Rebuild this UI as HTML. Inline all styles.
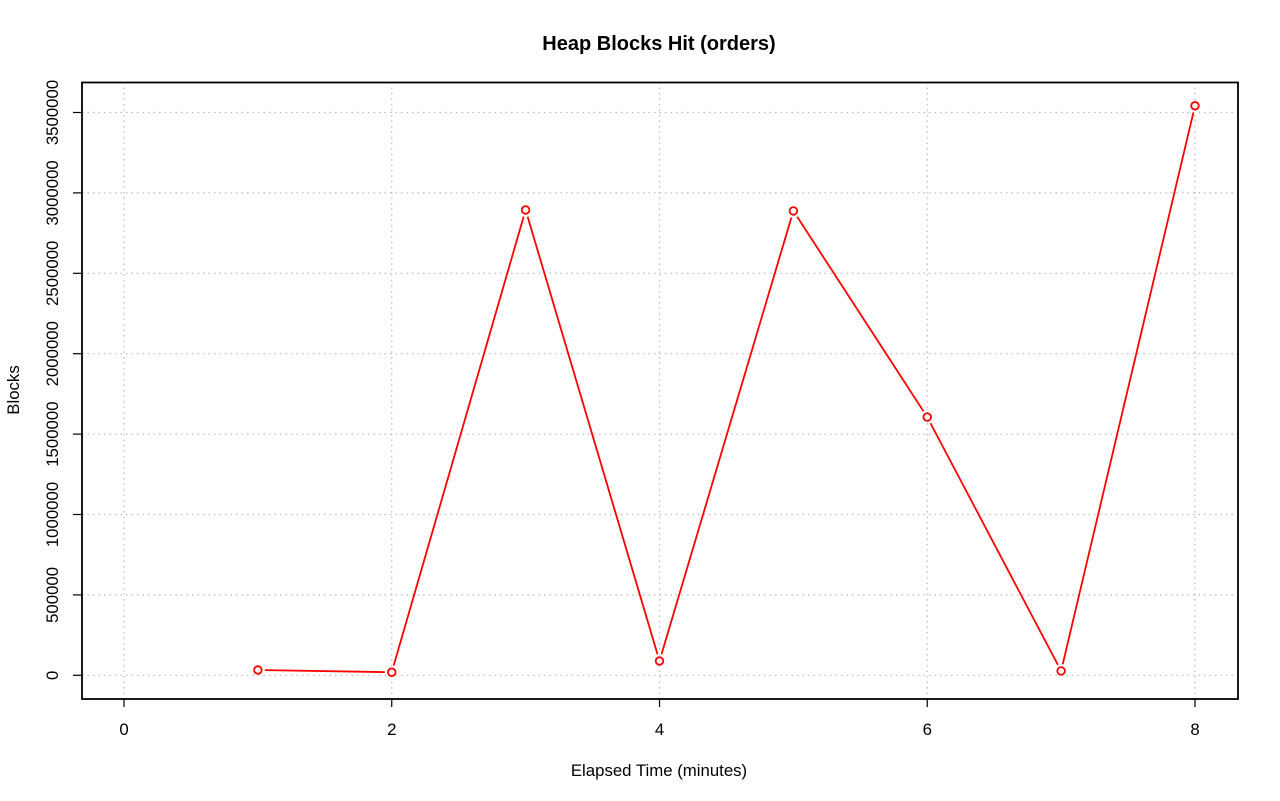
<!DOCTYPE html>
<html><head><meta charset="utf-8"><style>
html,body{margin:0;padding:0;background:#fff;}
svg{display:block;font-family:"Liberation Sans",sans-serif;}
</style></head><body>
<svg id="chart" width="1280" height="801" viewBox="0 0 1280 801">
<rect width="1280" height="801" fill="#fff"/>
<text x="659" y="50" text-anchor="middle" font-size="20" font-weight="bold">Heap Blocks Hit (orders)</text>
<text x="659" y="776" text-anchor="middle" font-size="16.8">Elapsed Time (minutes)</text>
<text x="0" y="0" transform="translate(19,390) rotate(-90)" text-anchor="middle" font-size="16.8">Blocks</text>
<g id="grid"></g>
<g id="axes"></g>
<g id="series"></g>
<rect x="82" y="82.5" width="1156" height="616.5" fill="none" stroke="#000" stroke-width="1.8"/>
</svg>
<script>
const xTicks = [0, 2, 4, 6, 8];
const yTicks = [0, 500000, 1000000, 1500000, 2000000, 2500000, 3000000, 3500000];
const yTickLabels = ["0", "500000", "1000000", "1500000", "2000000", "2500000", "3000000", "3500000"];
const minutes = [1, 2, 3, 4, 5, 6, 7, 8];
const blocks = [33000, 19000, 2894000, 89000, 2888000, 1606000, 27000, 3542000];

const NS = "http://www.w3.org/2000/svg";
function xs(v){ return 124 + v * (1195 - 124) / 8; }
function ys(v){ return 675.3 - v * 160.8 / 1000000; }
function mk(tag, attrs, parent){
  const e = document.createElementNS(NS, tag);
  for (const k in attrs) e.setAttribute(k, attrs[k]);
  parent.appendChild(e);
  return e;
}
const grid = document.getElementById('grid');
const axes = document.getElementById('axes');
const series = document.getElementById('series');

xTicks.forEach(t => {
  const g = mk('line', {x1: xs(t), x2: xs(t), y1: 82, y2: 699, stroke: '#bbb', 'stroke-width': 1.2, 'stroke-dasharray': '1.5 4'}, grid);
  
  
  const tk = mk('line', {x1: xs(t), x2: xs(t), y1: 699, y2: 707, stroke: '#000', 'stroke-width': 1.2}, axes);
  
  
  const lb = mk('text', {x: xs(t), y: 735, 'text-anchor': 'middle', 'font-size': 16.8}, axes);
  lb.textContent = String(t);
  
  
});
yTicks.forEach((t, i) => {
  const g = mk('line', {x1: 82, x2: 1238, y1: ys(t), y2: ys(t), stroke: '#bbb', 'stroke-width': 1.2, 'stroke-dasharray': '1.5 4'}, grid);
  
  
  const tk = mk('line', {x1: 73, x2: 82, y1: ys(t), y2: ys(t), stroke: '#000', 'stroke-width': 1.2}, axes);
  
  
  const lb = mk('text', {x: 0, y: 0, transform: 'translate(58,' + ys(t) + ') rotate(-90)', 'text-anchor': 'middle', 'font-size': 16.8}, axes);
  lb.textContent = yTickLabels[i];
  
  
});
const gap = 7;
for (let i = 0; i < minutes.length - 1; i++) {
  const x1 = xs(minutes[i]), y1 = ys(blocks[i]), x2 = xs(minutes[i+1]), y2 = ys(blocks[i+1]);
  const d = Math.hypot(x2 - x1, y2 - y1);
  if (d <= 2 * gap) continue;
  const ux = (x2 - x1) / d, uy = (y2 - y1) / d;
  const s = mk('line', {x1: x1 + ux*gap, y1: y1 + uy*gap, x2: x2 - ux*gap, y2: y2 - uy*gap, stroke: '#f00', 'stroke-width': 1.8}, series);
  
  
}
minutes.forEach((m, i) => {
  const c = mk('circle', {cx: xs(m), cy: ys(blocks[i]), r: 3.8, fill: '#fff', stroke: '#f00', 'stroke-width': 1.8}, series);
  
  
});
</script>
</body></html>
